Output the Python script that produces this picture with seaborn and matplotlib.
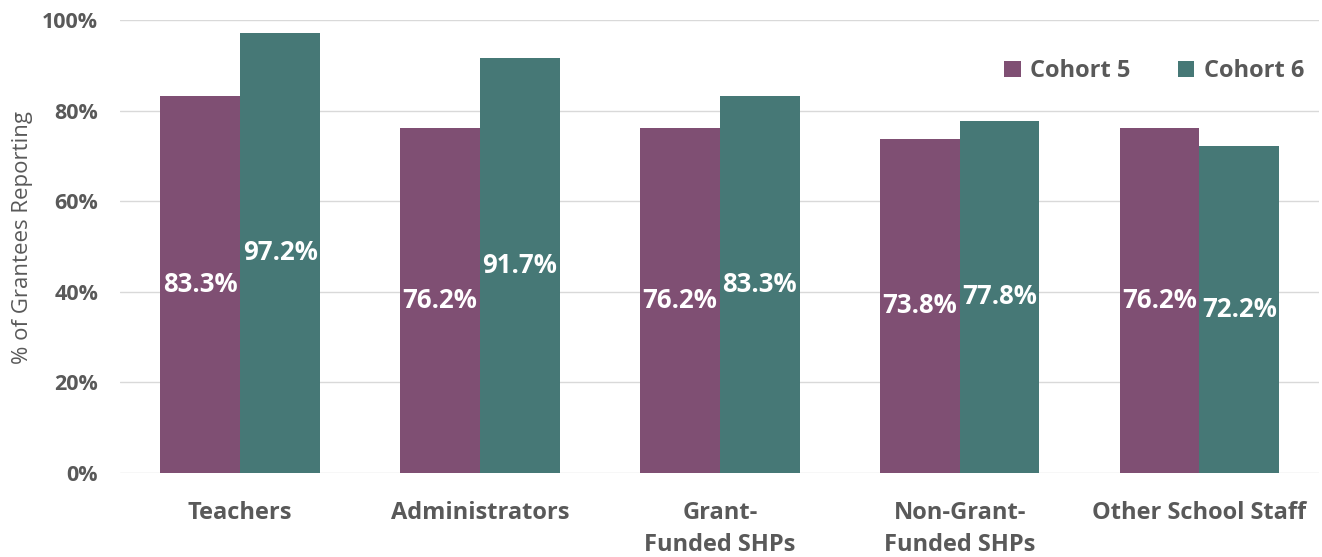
import pandas as pd
import matplotlib.pyplot as plt
import seaborn as sns
from matplotlib.ticker import PercentFormatter

categories = ["Teachers", "Administrators", "Grant-\nFunded SHPs",
              "Non-Grant-\nFunded SHPs", "Other School Staff"]
cohort5 = [83.3, 76.2, 76.2, 73.8, 76.2]
cohort6 = [97.2, 91.7, 83.3, 77.8, 72.2]
series = ["Cohort 5", "Cohort 6"]
colors = ["#7F4F73", "#467876"]

df = pd.DataFrame({
    "category": categories * 2,
    "cohort": [series[0]] * len(categories) + [series[1]] * len(categories),
    "pct": cohort5 + cohort6,
})

sns.set_style("white")
plt.rcParams["font.family"] = ["Open Sans", "DejaVu Sans"]

fig = plt.figure(figsize=(13.22, 5.57), dpi=100)
ax = fig.add_axes([0.091, 0.151, 0.907, 0.813])

sns.barplot(data=df, x="category", y="pct", hue="cohort", palette=colors,
            width=0.665, saturation=1, linewidth=0, ax=ax, zorder=3)

# value labels centred inside each bar
for cont in ax.containers:
    labels = [f"{v:.1f}%" for v in cont.datavalues]
    ax.bar_label(cont, labels=labels, label_type="center", color="white",
                 fontsize=18.5, fontweight="bold")

ax.set_ylim(0, 100)
ax.set_yticks(range(0, 101, 20))
ax.yaxis.set_major_formatter(PercentFormatter(decimals=0))
ax.grid(axis="y", color="#D9D9D9", linewidth=1, zorder=0)
for s in ax.spines.values():
    s.set_visible(False)

ax.set_xlabel("")
ax.set_xticks(range(len(categories)))
ax.set_xticklabels(categories, fontweight="bold", linespacing=1.45)
ax.set_ylabel("% of Grantees Reporting", fontsize=16, color="#595959")
ax.yaxis.set_label_coords(-0.073, 0.52)
ax.tick_params(axis="both", length=0)
ax.tick_params(axis="y", labelsize=15.5, labelcolor="#595959", pad=16)
ax.tick_params(axis="x", labelsize=17, labelcolor="#595959", pad=20)
for t in ax.get_yticklabels():
    t.set_fontweight("bold")

leg = ax.legend(loc="upper right", bbox_to_anchor=(1.005, 0.96), ncol=2, frameon=False,
                fontsize=17, handlelength=0.7, handleheight=0.7,
                columnspacing=2.0, handletextpad=0.4)
for t in leg.get_texts():
    t.set_color("#595959")
    t.set_fontweight("bold")

fig.savefig("out.png", dpi=100)
